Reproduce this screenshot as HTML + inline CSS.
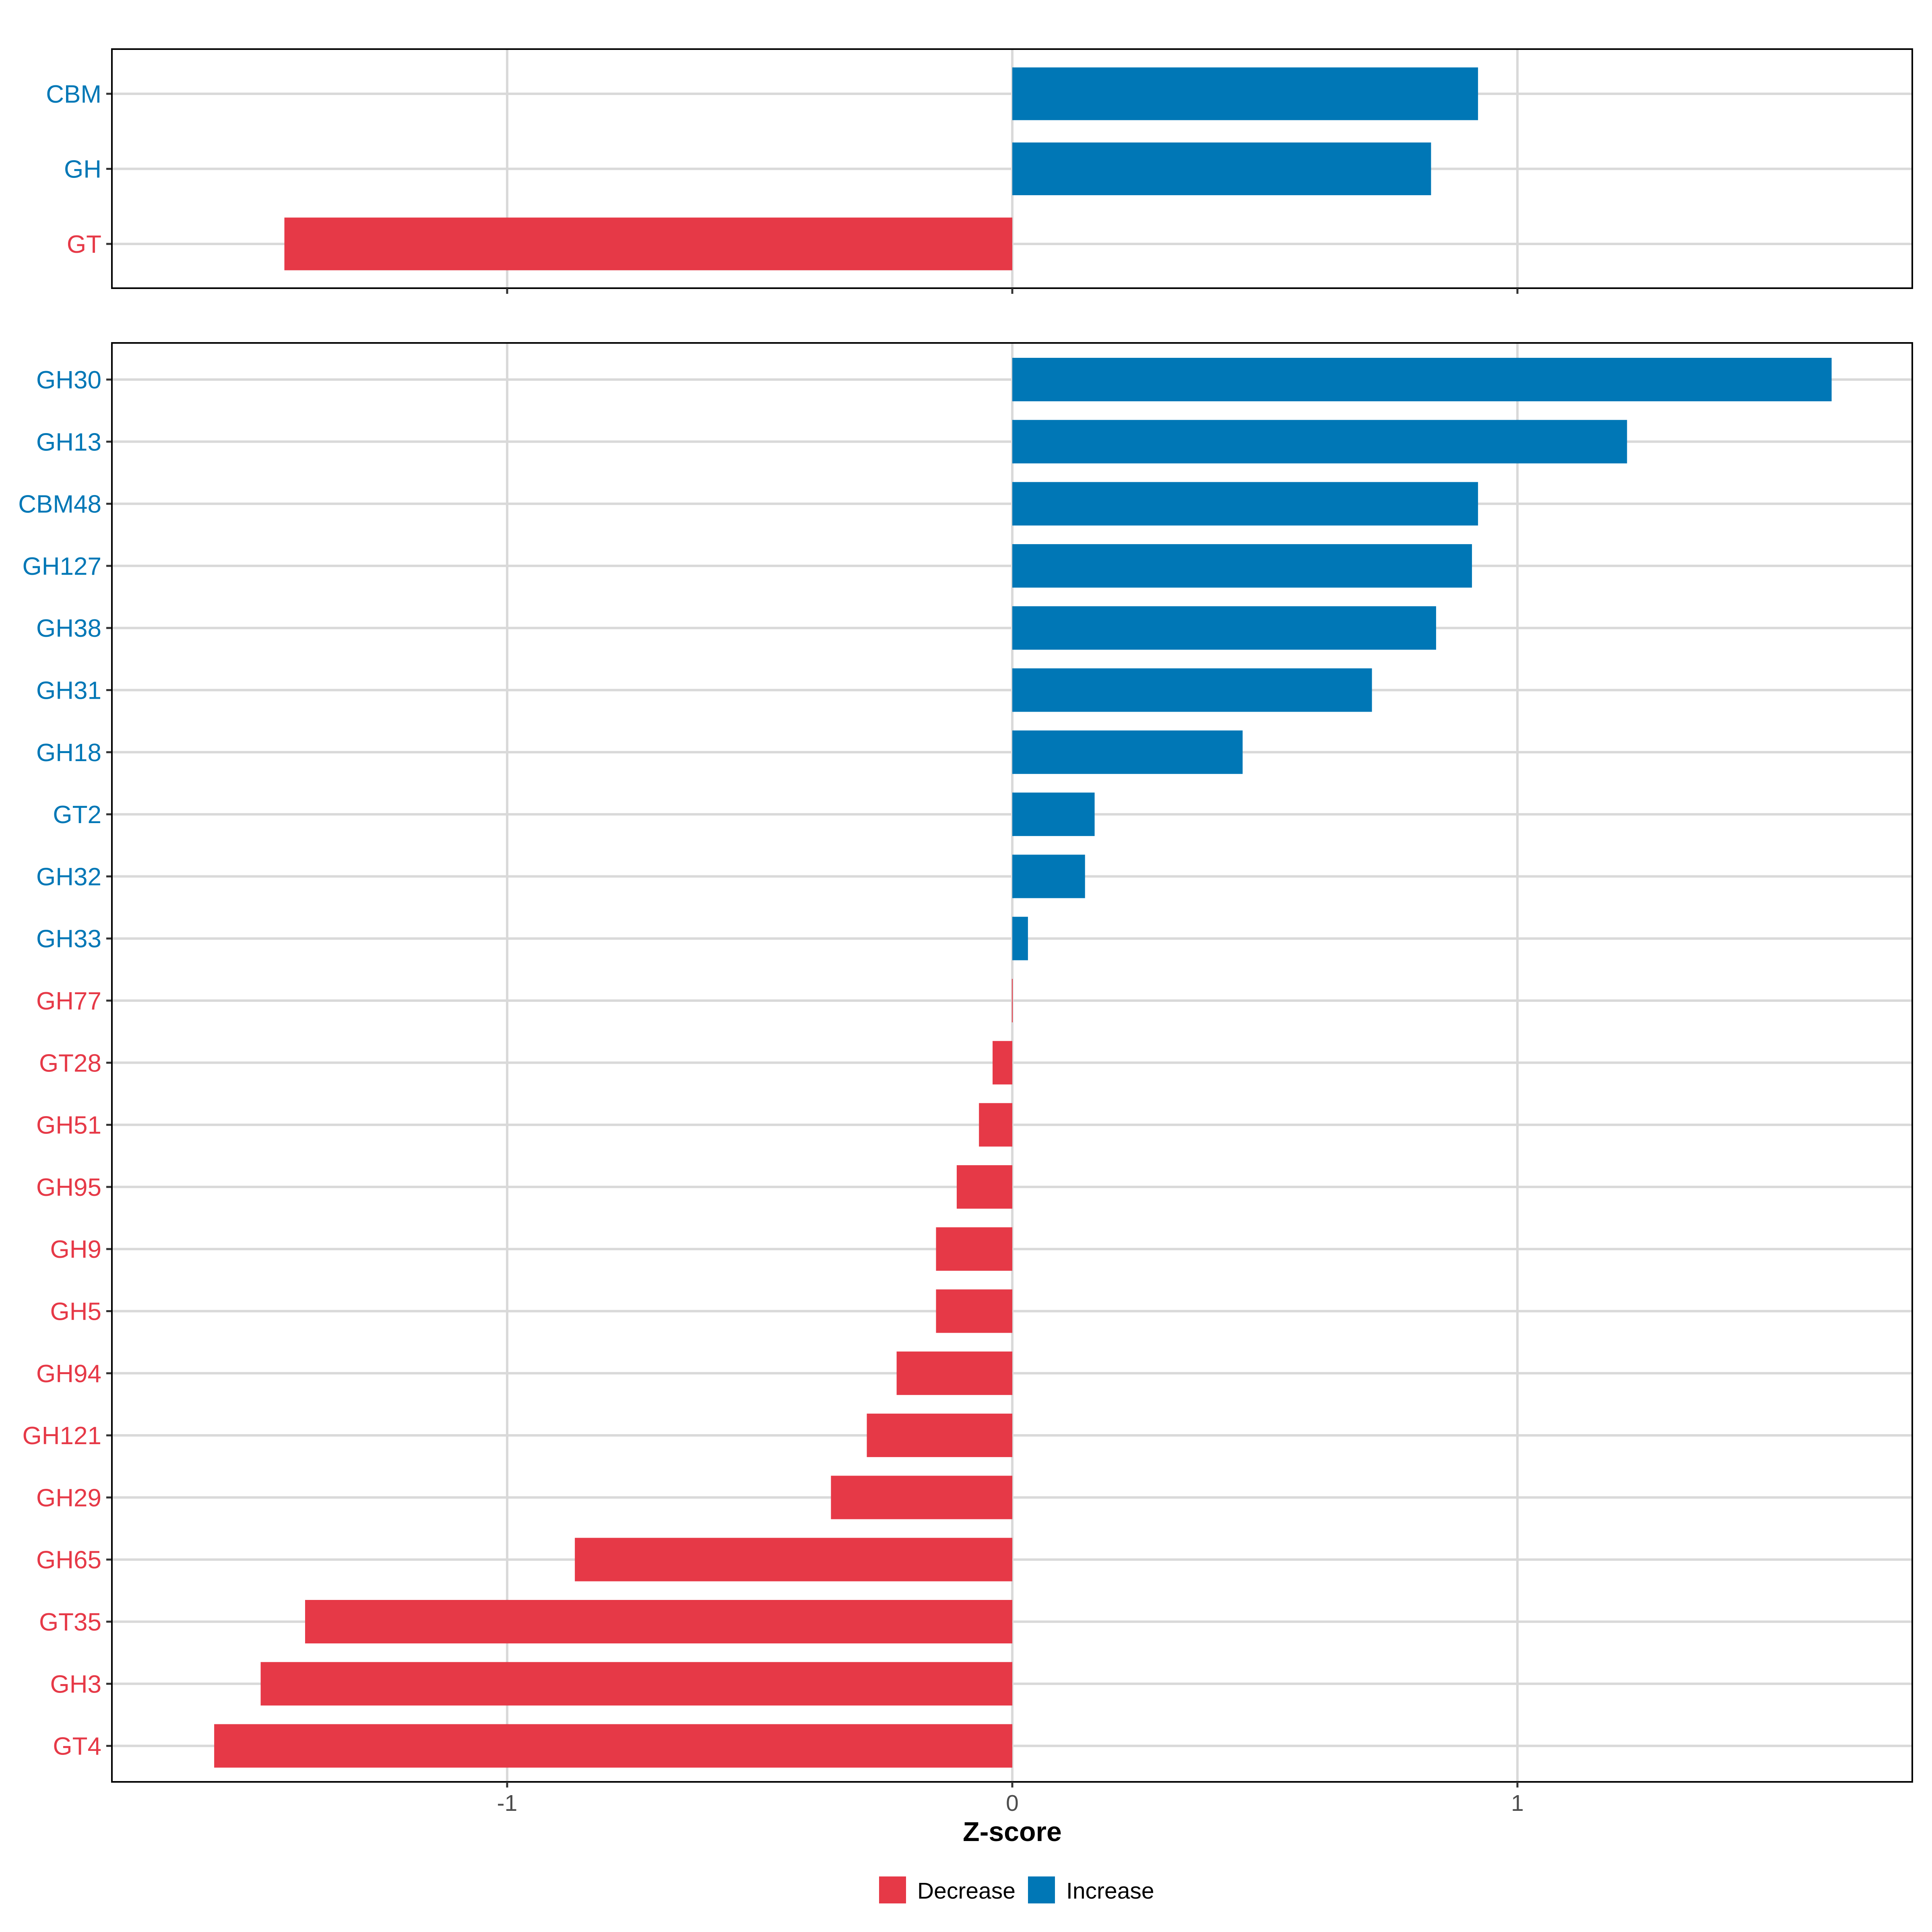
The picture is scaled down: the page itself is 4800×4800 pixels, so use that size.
<!DOCTYPE html>
<html><head><meta charset="utf-8"><style>
html,body{margin:0;padding:0;background:#fff}
svg{display:block;font-family:"Liberation Sans",sans-serif}
</style></head><body>
<svg id="chart" width="4800" height="4800" viewBox="0 0 4800 4800" xmlns="http://www.w3.org/2000/svg">
<rect width="4800" height="4800" fill="#fff"/>
<g id="top"></g>
<g id="bot"></g>
<text x="2515" y="4574" font-size="68" font-weight="bold" text-anchor="middle" fill="#000">Z-score</text>
<g>
<rect x="2184" y="4662" width="67" height="67" fill="#E63947"/>
<text x="2279" y="4717" font-size="57" fill="#000">Decrease</text>
<rect x="2554" y="4662" width="67" height="67" fill="#0077B6"/>
<text x="2649" y="4717" font-size="57" fill="#000">Increase</text>
</g>
</svg>
<script>
const topCats = ["CBM","GH","GT"];
const topVals = [0.922,0.829,-1.441];
const botCats = ["GH30","GH13","CBM48","GH127","GH38","GH31","GH18","GT2","GH32","GH33","GH77","GT28","GH51","GH95","GH9","GH5","GH94","GH121","GH29","GH65","GT35","GH3","GT4"];
const botVals = [1.622,1.217,0.922,0.910,0.839,0.712,0.456,0.163,0.144,0.031,0,-0.039,-0.066,-0.110,-0.151,-0.151,-0.229,-0.288,-0.359,-0.866,-1.400,-1.488,-1.580];
const xTicks = [-1,0,1];
const xTickLabels = ["-1","0","1"];

const NS="http://www.w3.org/2000/svg";
const RED="#E63947", BLUE="#0077B6";
const X0=278, X1=4751;
function xs(v){return 2515 + v*1255;}
function mk(parent,tag,attrs){const e=document.createElementNS(NS,tag);for(const k in attrs)e.setAttribute(k,attrs[k]);parent.appendChild(e);return e;}

function panel(g,cats,vals,top,bottom,firstY,step,barH,showLabels){
  xTicks.forEach(t=>{
    const l=mk(g,"line",{x1:xs(t),x2:xs(t),y1:top,y2:bottom,stroke:"#d9d9d9","stroke-width":6});
    
    
  });
  cats.forEach((c,i)=>{
    const y=firstY+i*step;
    const l=mk(g,"line",{x1:X0,x2:X1,y1:y,y2:y,stroke:"#d9d9d9","stroke-width":6});
    
    
  });
  cats.forEach((c,i)=>{
    const y=firstY+i*step, v=vals[i];
    const col=v>0?BLUE:RED;
    const x=Math.min(xs(0),xs(v)), w=Math.abs(xs(v)-xs(0));
    const r=mk(g,"rect",{x:w<2?xs(0)-1:x,y:y-barH/2,width:Math.max(w,2),height:barH,fill:col});
    
    
    const t=mk(g,"text",{x:252,y:y+22,"font-size":62,"text-anchor":"end",fill:col});
    t.textContent=c;
    
    
    const tk=mk(g,"line",{x1:264,x2:278,y1:y,y2:y,stroke:"#333","stroke-width":5});
    
    
  });
  const b=mk(g,"rect",{x:X0,y:top,width:X1-X0,height:bottom-top,fill:"none",stroke:"#000","stroke-width":4});
  
  
  xTicks.forEach((t,i)=>{
    const tk=mk(g,"line",{x1:xs(t),x2:xs(t),y1:bottom,y2:bottom+14,stroke:"#333","stroke-width":5});
    
    
    if(showLabels){
      const tl=mk(g,"text",{x:xs(t),y:bottom+72,"font-size":57,"text-anchor":"middle",fill:"#4d4d4d"});
      tl.textContent=xTickLabels[i];
      
      
    }
  });
}
panel(document.getElementById("top"),topCats,topVals,122,716,233,186.5,131,false);
panel(document.getElementById("bot"),botCats,botVals,852,4427,943,154.3,108,true);
</script>
</body></html>
